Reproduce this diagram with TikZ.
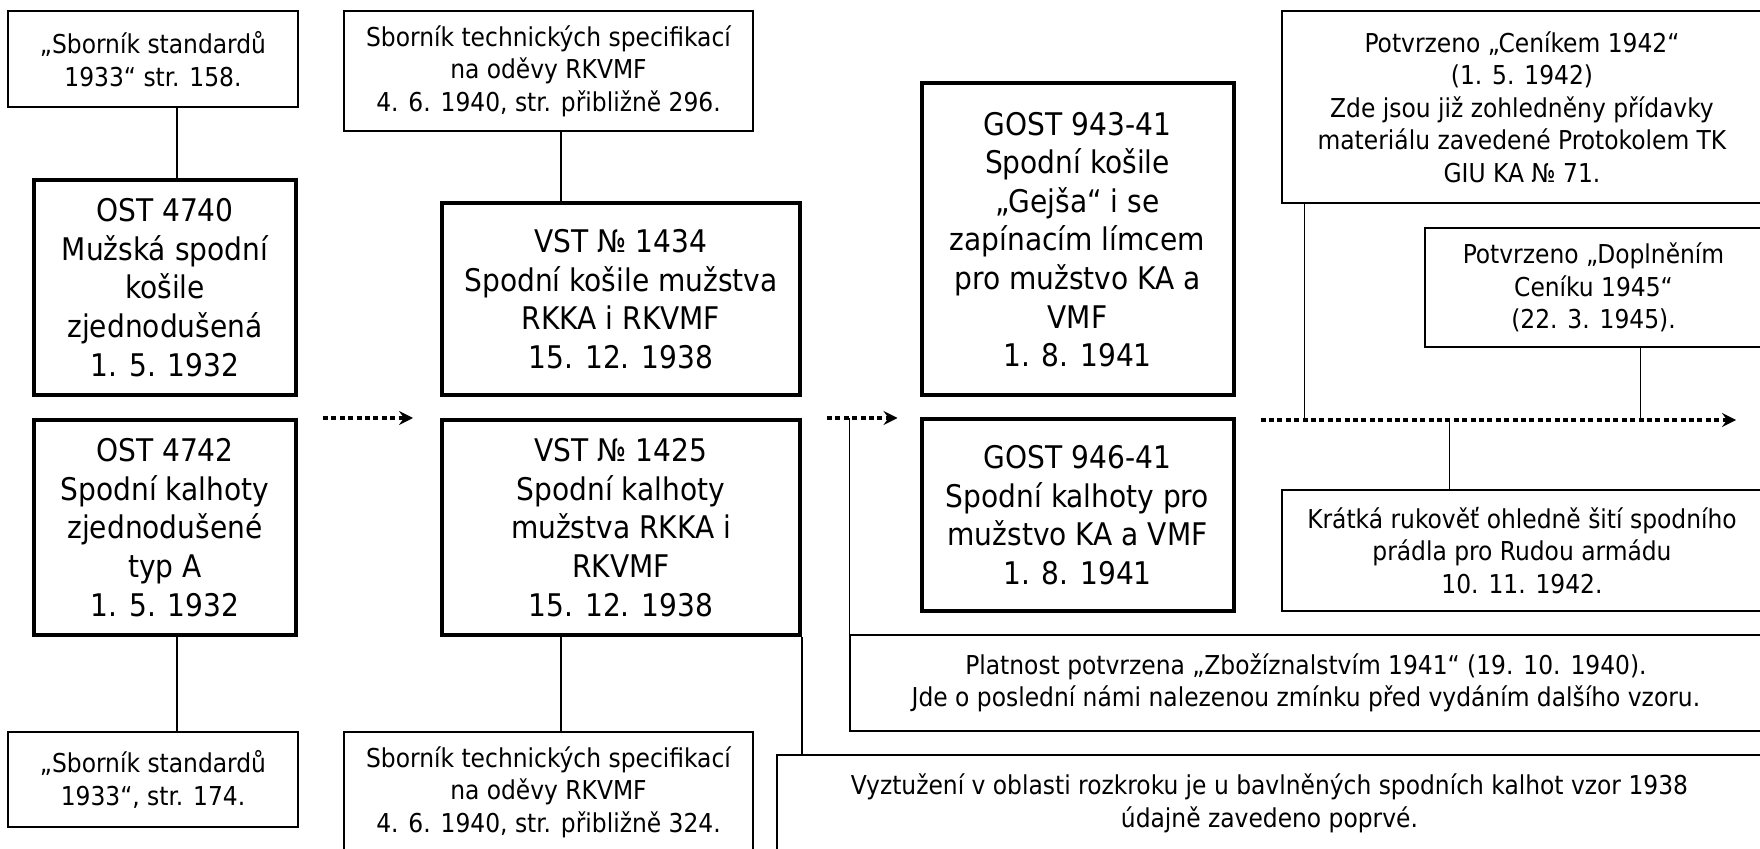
\documentclass[tikz,border=0pt]{standalone}
\usepackage{fontspec}
\setmainfont{DejaVu Sans Condensed}
\usetikzlibrary{arrows.meta}

\begin{document}
\begin{tikzpicture}[x=0.5pt, y=-0.5pt,
	srcbox/.style={draw, line width=0.65pt, inner sep=0pt, align=center, font=\fontsize{13pt}{16.3pt}\selectfont},
	stdbox/.style={draw, line width=2pt, inner sep=0pt, align=center, font=\fontsize{15.6pt}{19.3pt}\selectfont},
	link/.style={line width=0.65pt},
	flow/.style={line width=2pt, dash pattern=on 2.5pt off 1.7pt, -{Stealth[length=7pt,width=7pt,inset=2.5pt]}}]

	\fill[white] (0,0) rectangle (1760,849);
	\useasboundingbox (0,0) rectangle (1760,849);

	\node[srcbox, minimum width=145pt, minimum height=48pt] (src1) at (153,59) {„Sborník standardů\\1933“ str. 158.};
	\node[stdbox, minimum width=131pt, minimum height=107.5pt] (ost4740) at (165,287.5) {OST 4740\\Mužská spodní\\košile\\zjednodušená\\1. 5. 1932};
	\node[stdbox, minimum width=131pt, minimum height=107.5pt] (ost4742) at (165,527.5) {OST 4742\\Spodní kalhoty\\zjednodušené\\typ A\\1. 5. 1932};
	\node[srcbox, minimum width=145pt, minimum height=47.5pt] (src2) at (153,779.5) {„Sborník standardů\\1933“, str. 174.};

	\node[srcbox, minimum width=204.5pt, minimum height=60pt] (src3) at (548.5,71) {Sborník technických specifikací\\na oděvy RKVMF\\4. 6. 1940, str. přibližně 296.};
	\node[stdbox, minimum width=179pt, minimum height=96pt] (vst1434) at (621,299) {VST № 1434\\Spodní košile mužstva\\RKKA i RKVMF\\15. 12. 1938};
	\node[stdbox, minimum width=179pt, minimum height=107.5pt] (vst1425) at (621,527.5) {VST № 1425\\Spodní kalhoty\\mužstva RKKA i\\RKVMF\\15. 12. 1938};
	\node[srcbox, minimum width=204.5pt, minimum height=60pt] (src4) at (548.5,792) {Sborník technických specifikací\\na oděvy RKVMF\\4. 6. 1940, str. přibližně 324.};

	\node[stdbox, minimum width=156pt, minimum height=156pt] (gost943) at (1077.5,239.5) {GOST 943-41\\Spodní košile\\„Gejša“ i se\\zapínacím límcem\\pro mužstvo KA a\\VMF\\1. 8. 1941};
	\node[stdbox, minimum width=156pt, minimum height=96pt] (gost946) at (1077.5,515) {GOST 946-41\\Spodní kalhoty pro\\mužstvo KA a VMF\\1. 8. 1941};

	\node[srcbox, minimum width=240pt, minimum height=96pt] (cenik) at (1522,107) {Potvrzeno „Ceníkem 1942“\\(1. 5. 1942)\\Zde jsou již zohledněny přídavky\\materiálu zavedené Protokolem TK\\GIU KA № 71.};
	\node[srcbox, minimum width=168.5pt, minimum height=59.5pt] (dopl) at (1593.5,287.5) {Potvrzeno „Doplněním\\Ceníku 1945“\\(22. 3. 1945).};
	\node[srcbox, minimum width=240pt, minimum height=60.5pt] (kratka) at (1522,550.5) {Krátká rukověť ohledně šití spodního\\prádla pro Rudou armádu\\10. 11. 1942.};
	\node[srcbox, minimum width=456pt, minimum height=48pt] (platnost) at (1306,683) {Platnost potvrzena „Zbožíznalstvím 1941“ (19. 10. 1940).\\Jde o poslední námi nalezenou zmínku před vydáním dalšího vzoru.};
	\node[srcbox, minimum width=492.5pt, minimum height=48.5pt] (vyzt) at (1269.5,803.5) {Vyztužení v oblasti rozkroku je u bavlněných spodních kalhot vzor 1938\\údajně zavedeno poprvé.};

	\coordinate (end) at (1736,420);

	\draw[link] ([xshift=6pt]ost4740.north) -- ([xshift=6pt]ost4740.north |- src1.south);
	\draw[link] ([xshift=6pt]ost4742.south) -- ([xshift=6pt]ost4742.south |- src2.north);
	\draw[link] ([xshift=-30pt]vst1434.north) -- ([xshift=-30pt]vst1434.north |- src3.south);
	\draw[link] ([xshift=-30pt]vst1425.south) -- ([xshift=-30pt]vst1425.south |- src4.north);
	\draw[link] (vst1425.south east) -- (vst1425.south east |- vyzt.north);
	\draw[link] (platnost.north west) -- (platnost.north west |- vst1425.north);
	\draw[link] ([xshift=11.5pt]cenik.south west) -- ([xshift=11.5pt]cenik.south west |- end);
	\draw[link] ([xshift=108pt]dopl.south west) -- ([xshift=108pt]dopl.south west |- end);
	\draw[link] ([xshift=84pt]kratka.north west) -- ([xshift=84pt]kratka.north west |- end);

	\draw[flow] ([xshift=12.5pt]ost4742.north east) -- ([xshift=-13.5pt]vst1425.north west);
	\draw[flow] ([xshift=12.5pt]vst1425.north east) -- ([xshift=-11pt]gost946.west |- vst1425.north);
	\draw[flow] ([xshift=12.5pt]gost946.east |- end) -- (end);

\end{tikzpicture}
\end{document}
